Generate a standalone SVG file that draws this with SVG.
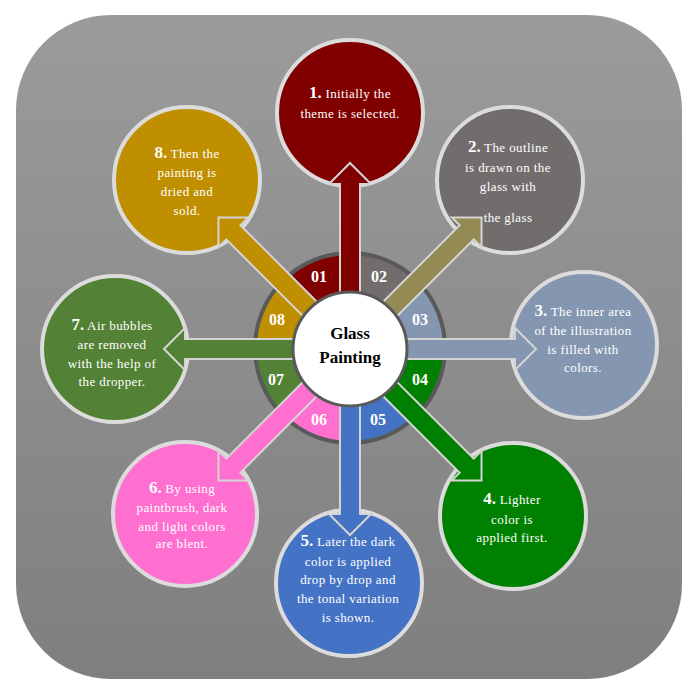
<svg xmlns="http://www.w3.org/2000/svg" width="698" height="698" viewBox="0 0 698 698">
<defs>
<linearGradient id="bg" x1="0" y1="0" x2="0" y2="1">
<stop offset="0" stop-color="#9b9b9b"/>
<stop offset="1" stop-color="#7f7f7f"/>
</linearGradient>
<path id="arr" d="M0,-10 H165 V-21 L186,0 L165,21 V10 H0 Z"/>
</defs>
<style>
.node circle{stroke:#dcdcdc;stroke-width:4}
.t{font-family:"Liberation Serif","Times New Roman",serif;font-size:13px;fill:#ffffff;text-anchor:middle;letter-spacing:0.4px}
.n{font-weight:bold;font-size:17px;letter-spacing:0}
.seg{font-family:"Liberation Serif","Times New Roman",serif;font-size:16px;font-weight:bold;fill:#ffffff;text-anchor:middle}
.a{stroke:#d4d4d4;stroke-width:2}
.c{font-family:"Liberation Serif","Times New Roman",serif;font-size:17px;font-weight:bold;fill:#000000;text-anchor:middle}
</style>
<rect x="16" y="15" width="666" height="664" rx="95" ry="95" fill="url(#bg)"/>

<g id="node1" class="node"><circle cx="350" cy="113" r="73" fill="#800000"/>
<text class="t" x="350" y="98"><tspan class="n">1.</tspan> Initially the</text>
<text class="t" x="350" y="118">theme is selected.</text></g>

<g id="node2" class="node"><circle cx="510" cy="180" r="73" fill="#726d6d"/>
<text class="t" x="508" y="152"><tspan class="n">2.</tspan> The outline</text>
<text class="t" x="508" y="172">is drawn on the</text>
<text class="t" x="508" y="191">glass with</text>
<text class="t" x="508" y="222">the glass</text></g>

<g id="node3" class="node"><circle cx="584" cy="345" r="73" fill="#8496b0"/>
<text class="t" x="583" y="316"><tspan class="n">3.</tspan> The inner area</text>
<text class="t" x="583" y="335">of the illustration</text>
<text class="t" x="583" y="354">is filled with</text>
<text class="t" x="583" y="372">colors.</text></g>

<g id="node4" class="node"><circle cx="513" cy="516" r="73" fill="#008000"/>
<text class="t" x="512" y="504"><tspan class="n">4.</tspan> Lighter</text>
<text class="t" x="512" y="524">color is</text>
<text class="t" x="512" y="542">applied first.</text></g>

<g id="node5" class="node"><circle cx="349" cy="583" r="73" fill="#4472c4"/>
<text class="t" x="348" y="546"><tspan class="n">5.</tspan> Later the dark</text>
<text class="t" x="348" y="566">color is applied</text>
<text class="t" x="348" y="584">drop by drop and</text>
<text class="t" x="348" y="603">the tonal variation</text>
<text class="t" x="348" y="622">is shown.</text></g>

<g id="node6" class="node"><circle cx="185" cy="514" r="72" fill="#ff6fd0"/>
<text class="t" x="182" y="493"><tspan class="n">6.</tspan> By using</text>
<text class="t" x="182" y="512">paintbrush, dark</text>
<text class="t" x="182" y="531">and light colors</text>
<text class="t" x="182" y="548">are blent.</text></g>

<g id="node7" class="node"><circle cx="115" cy="349" r="73" fill="#538135"/>
<text class="t" x="112" y="330"><tspan class="n">7.</tspan> Air bubbles</text>
<text class="t" x="112" y="349">are removed</text>
<text class="t" x="112" y="368">with the help of</text>
<text class="t" x="112" y="386">the dropper.</text></g>

<g id="node8" class="node"><circle cx="187" cy="180" r="73" fill="#bf8f00"/>
<text class="t" x="187" y="158"><tspan class="n">8.</tspan> Then the</text>
<text class="t" x="187" y="177">painting is</text>
<text class="t" x="187" y="196">dried and</text>
<text class="t" x="187" y="215">sold.</text></g>

<g id="ring">
<path d="M350,348 L282.82,280.82 A95,95 0 0 1 350,253 Z" fill="#800000"/>
<path d="M350,348 L350,253 A95,95 0 0 1 417.18,280.82 Z" fill="#726d6d"/>
<path d="M350,348 L417.18,280.82 A95,95 0 0 1 445,348 Z" fill="#8496b0"/>
<path d="M350,348 L445,348 A95,95 0 0 1 417.18,415.18 Z" fill="#008000"/>
<path d="M350,348 L417.18,415.18 A95,95 0 0 1 350,443 Z" fill="#4472c4"/>
<path d="M350,348 L350,443 A95,95 0 0 1 282.82,415.18 Z" fill="#ff6fd0"/>
<path d="M350,348 L282.82,415.18 A95,95 0 0 1 255,348 Z" fill="#538135"/>
<path d="M350,348 L255,348 A95,95 0 0 1 282.82,280.82 Z" fill="#bf8f00"/>
<circle cx="350" cy="348" r="95" fill="none" stroke="#595959" stroke-width="4"/>
<text class="seg" x="319" y="282">01</text>
<text class="seg" x="379" y="282">02</text>
<text class="seg" x="420" y="325">03</text>
<text class="seg" x="420" y="385">04</text>
<text class="seg" x="378" y="425">05</text>
<text class="seg" x="319" y="425">06</text>
<text class="seg" x="276" y="385">07</text>
<text class="seg" x="277" y="325">08</text>
</g>

<g id="connectors">
<use href="#arr" class="a" fill="#800000" transform="translate(350,349) rotate(-90)"/>
<use href="#arr" class="a" fill="#948a54" transform="translate(350,349) rotate(-45)"/>
<use href="#arr" class="a" fill="#8496b0" transform="translate(350,349) rotate(0)"/>
<use href="#arr" class="a" fill="#008000" transform="translate(350,349) rotate(45)"/>
<use href="#arr" class="a" fill="#4472c4" transform="translate(350,349) rotate(90)"/>
<use href="#arr" class="a" fill="#ff6fd0" transform="translate(350,349) rotate(135)"/>
<use href="#arr" class="a" fill="#538135" transform="translate(350,349) rotate(180)"/>
<use href="#arr" class="a" fill="#bf8f00" transform="translate(350,349) rotate(225)"/>
</g>

<g id="center">
<circle cx="350" cy="349" r="57" fill="#ffffff" stroke="#595959" stroke-width="3"/>
<text class="c" x="350" y="339">Glass</text>
<text class="c" x="350" y="363">Painting</text>
</g>
</svg>
